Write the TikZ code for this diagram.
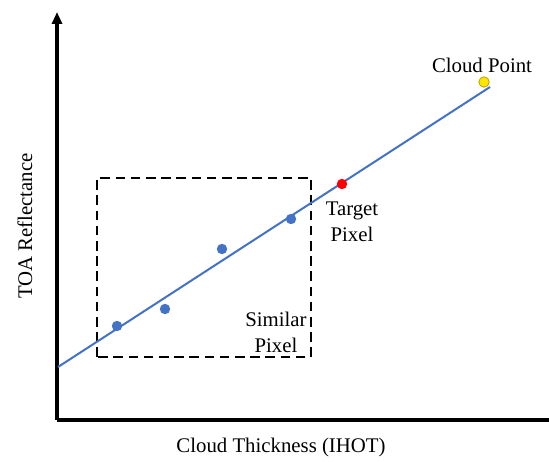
\documentclass[tikz,border=0pt]{standalone}
\usepackage{fontspec}
\setmainfont{Liberation Serif}
\usepackage{tikz}
\usetikzlibrary{arrows.meta,positioning}
\definecolor{fitBlue}{RGB}{68,114,196}
\definecolor{ptBlue}{RGB}{68,114,196}
\definecolor{ptRed}{RGB}{255,0,0}
\definecolor{ptYellow}{RGB}{255,230,0}
\definecolor{ptYellowEdge}{RGB}{190,160,0}
\tikzset{
  axisline/.style={black, line width=1.6pt},
  lbl/.style={font=\fontsize{10.4}{12}\selectfont, inner sep=0pt, align=center},
  pt/.style={circle, inner sep=0pt, minimum size=5.2pt}
}
\begin{document}
\begin{tikzpicture}[x=0.5pt,y=0.5pt]
\useasboundingbox (0,0) rectangle (549,461);
% axes
\coordinate (origin) at (57,41);
\coordinate (ytop) at (57,449);
\coordinate (xend) at (549,41);
\draw[axisline, -{Triangle[length=6pt,width=5pt]}] (origin) -- (ytop);
\draw[axisline] (origin) -- (xend);
% similar pixel window
\draw[black, line width=1pt, dash pattern=on 4.8pt off 2.8pt] (97,104) rectangle (311,283);
% fitted line
\coordinate (fitstart) at (58,94);
\coordinate (fitend) at (490,374);
\draw[fitBlue, line width=1pt] (fitstart) -- (fitend);
% points
\node[pt, fill=ptBlue] (p1) at (117,135) {};
\node[pt, fill=ptBlue] (p2) at (165,152) {};
\node[pt, fill=ptBlue] (p3) at (222,212) {};
\node[pt, fill=ptBlue] (p4) at (291,242) {};
\node[pt, fill=ptRed] (target) at (342,277) {};
\node[pt, fill=ptYellow, draw=ptYellowEdge, line width=0.4pt] (cloud) at (484,379) {};
% labels
\node[lbl] (cloudlbl) at (482,396) {Cloud Point};
\node[lbl] (targetlbl) at (352,239) {Target\\[1pt]Pixel};
\node[lbl] (similarlbl) at (276,129) {Similar\\[1pt]Pixel};
\node[lbl] (xlbl) at (281,14) {Cloud Thickness (IHOT)};
\node[lbl, rotate=90] (ylbl) at (25,235) {TOA Reflectance};
\end{tikzpicture}
\end{document}
